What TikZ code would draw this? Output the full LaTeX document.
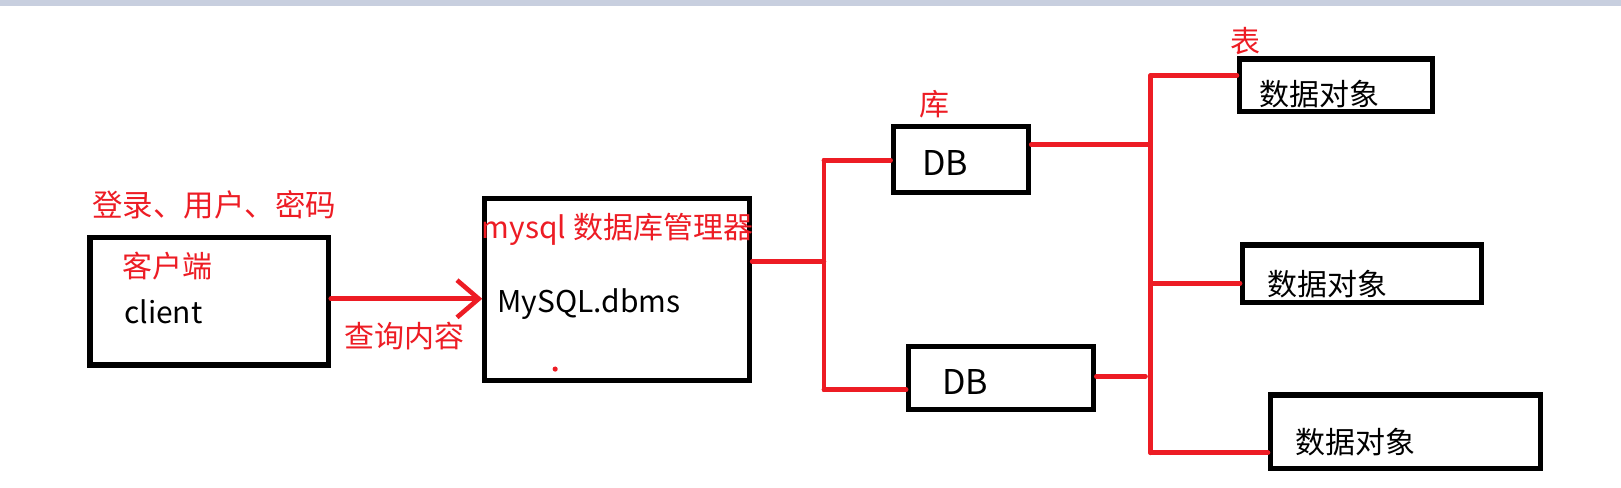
\documentclass[tikz,border=0pt]{standalone}
\usepackage{fontspec}
\setmainfont{Noto Sans CJK SC}
\usetikzlibrary{arrows.meta}
\definecolor{pred}{RGB}{237,28,36}
\definecolor{barg}{RGB}{200,207,223}
\tikzset{
  box/.style={draw=black,line width=5pt,inner sep=0pt,rectangle},
  rlab/.style={text=pred,inner sep=0pt,anchor=west,font=\fontsize{29}{29}\selectfont},
  blab/.style={text=black,inner sep=0pt,anchor=west,font=\fontsize{29}{29}\selectfont},
  dblab/.style={blab,anchor=base west,font=\fontsize{33}{33}\selectfont},
  wire/.style={draw=pred,line width=4.5pt,line cap=round},
}
\begin{document}
\begin{tikzpicture}[x=1pt,y=-1pt]
\useasboundingbox (0,0) rectangle (1568,472);
\fill[barg] (0,0) rectangle (1568,6);
% boxes
\node[box,minimum width=231pt,minimum height=123pt] (cl) at (202.5,291.5) {};
\node[box,minimum width=256pt,minimum height=176pt] (my) at (597,280) {};
\node[box,minimum width=131pt,minimum height=64pt] (db1) at (929.5,154) {};
\node[box,minimum width=179pt,minimum height=61pt] (db2) at (968.5,365.5) {};
\node[box,minimum width=187pt,minimum height=51pt] (t1) at (1292.5,82.5) {};
\node[box,minimum width=231pt,minimum height=56pt] (t2) at (1317.5,265) {};
\node[box,minimum width=261pt,minimum height=71pt] (t3) at (1359.5,417.5) {};
% labels
\node[rlab,font=\fontsize{29.5}{30}\selectfont] (l1) at (89,198) {登录、用户、密码};
\node[rlab] (l2) at (118,257) {客户端};
\node[blab,anchor=base west] (l3) at (120,313) {client};
\node[rlab] (l4) at (333,325) {查询内容};
\node[rlab] (l5) at (466,222) {mysql 数据库管理器};
\node[blab,anchor=base west] (l6) at (481,302) {MySQL.dbms};
\node[rlab] (l7) at (889,101) {库};
\node[dblab] (l8) at (892,170) {DB};
\node[dblab] (l9) at (911,382) {DB};
\node[rlab] (l10) at (1190,40) {表};
\node[blab] (l11) at (1218,91) {数据对象};
\node[blab] (l12) at (1226,275) {数据对象};
\node[blab] (l13) at (1253,428) {数据对象};
\fill[pred] (537,357) circle (2.5pt);
% arrow client -> mysql
\coordinate (ar) at (320,289);
\draw[wire,-{Straight Barb[length=21pt,width=36pt,line width=4.5pt]}] (ar) -- (ar -| my.west);
% first tree
\coordinate (ja) at (797,253);
\coordinate (jt) at (797,155);
\coordinate (jb) at (797,377);
\draw[wire] (ja -| my.east) -- (ja);
\draw[wire] (jt) -- (jb);
\draw[wire] (jt) -- (jt -| db1.west);
\draw[wire] (jb) -- (jb -| db2.west);
% second tree
\coordinate (kt) at (1113,73);
\coordinate (kb) at (1113,438);
\coordinate (k1) at (1113,140);
\coordinate (k2) at (1108,364);
\coordinate (km) at (1113,274);
\draw[wire] (k1 -| db1.east) -- (k1);
\draw[wire] (k2 -| db2.east) -- (k2);
\draw[wire] (kt) -- (kb);
\draw[wire] (kt) -- (kt -| t1.west);
\draw[wire] (km) -- (km -| t2.west);
\draw[wire] (kb) -- (kb -| t3.west);
\end{tikzpicture}
\end{document}
